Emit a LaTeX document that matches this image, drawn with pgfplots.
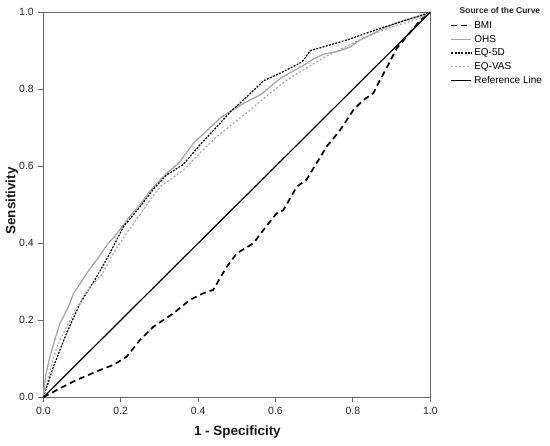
\documentclass[border=0pt]{standalone}
\usepackage{pgfplots}
\pgfplotsset{compat=1.18}
\usepackage{fontspec}
\setmainfont{Liberation Sans}
\definecolor{axgray}{HTML}{6A6A6A}
\definecolor{lgray}{HTML}{A8A8A8}
\begin{document}
\begin{tikzpicture}
\begin{axis}[
  scale only axis,
  width=387bp, height=385bp,
  xmin=0, xmax=1, ymin=0, ymax=1,
  xtick={0,0.2,0.4,0.6,0.8,1.0},
  ytick={0,0.2,0.4,0.6,0.8,1.0},
  xtick pos=bottom, ytick pos=left,
  tick align=outside,
  major tick length=5bp,
  every tick/.style={axgray, line width=1bp},
  axis line style={axgray, line width=1.5bp},
  tick label style={font=\fontsize{10.5}{12}\selectfont, text=black!85},
  /pgf/number format/assume math mode=true,
  /pgf/number format/.cd, fixed, fixed zerofill, precision=1, /pgfplots/.cd,
  xticklabel style={yshift=-1bp},
  yticklabel style={xshift=-1bp},
  xlabel={\textbf{1 - Specificity}},
  ylabel={\textbf{Sensitivity}},
  label style={font=\fontsize{13.5}{15}\selectfont, text=black!90},
  xlabel style={at={(axis description cs:0.5015,-0.090)}, anchor=center},
  ylabel style={at={(axis description cs:-0.081,0.51)}, anchor=center},
  legend style={draw=none, fill=none, at={(1.052,0.982)}, anchor=north west,
    font=\fontsize{10}{11}\selectfont, row sep=1.3bp, inner sep=0pt},
  legend cell align=left,
  legend image code/.code={\draw[#1] (0bp,0bp) -- (20bp,0bp);},
  every even column/.style={column sep=1bp},
  clip=false,
]
\addplot[black, line width=1.7bp, dash pattern=on 6bp off 4bp] coordinates {
(0,0) (0.035,0.019) (0.086,0.045) (0.147,0.071) (0.181,0.084) (0.215,0.105)
(0.250,0.149) (0.284,0.183) (0.336,0.218) (0.379,0.253) (0.413,0.270)
(0.439,0.279) (0.457,0.310) (0.474,0.339) (0.500,0.374) (0.543,0.400)
(0.569,0.435) (0.603,0.478) (0.620,0.486) (0.655,0.547) (0.680,0.565)
(0.706,0.608) (0.732,0.651) (0.767,0.694) (0.801,0.746) (0.827,0.772)
(0.853,0.790) (0.870,0.824) (0.887,0.855) (0.913,0.906) (0.939,0.937)
(0.956,0.958) (0.975,0.980) (1,1)};
\addlegendentry{BMI}
\addplot[lgray, line width=1.3bp] coordinates {
(0,0) (0.004,0.04) (0.009,0.071) (0.017,0.105) (0.030,0.150) (0.043,0.192)
(0.065,0.235) (0.078,0.270) (0.095,0.295) (0.112,0.322) (0.138,0.357)
(0.164,0.395) (0.190,0.425) (0.224,0.470) (0.250,0.500) (0.276,0.536)
(0.310,0.573) (0.353,0.612) (0.388,0.660) (0.420,0.690) (0.457,0.725)
(0.482,0.742) (0.520,0.765) (0.560,0.785) (0.612,0.828) (0.650,0.850)
(0.672,0.862) (0.700,0.880) (0.724,0.891) (0.760,0.898) (0.793,0.910)
(0.818,0.928) (0.853,0.945) (0.887,0.962) (0.920,0.975) (0.956,0.985)
(0.980,0.990) (1,1)};
\addlegendentry{OHS}
\addplot[black, line width=1.2bp, dash pattern=on 2bp off 1.3bp] coordinates {
(0,0) (0.010,0.030) (0.026,0.079) (0.043,0.123) (0.060,0.166) (0.095,0.244)
(0.138,0.313) (0.172,0.374) (0.207,0.443) (0.250,0.495) (0.284,0.540)
(0.319,0.578) (0.362,0.605) (0.405,0.656) (0.457,0.712) (0.482,0.740)
(0.520,0.775) (0.569,0.822) (0.612,0.842) (0.663,0.868) (0.672,0.875)
(0.689,0.900) (0.784,0.928) (0.870,0.958) (1,1)};
\addlegendentry{EQ-5D}
\addplot[lgray, line width=1.2bp, dash pattern=on 2bp off 2bp] coordinates {
(0,0) (0.010,0.040) (0.025,0.100) (0.043,0.149) (0.078,0.218) (0.121,0.287)
(0.151,0.318) (0.181,0.374) (0.215,0.426) (0.250,0.475) (0.276,0.512)
(0.302,0.547) (0.362,0.590) (0.405,0.635) (0.448,0.677) (0.534,0.746)
(0.580,0.785) (0.629,0.824) (0.680,0.855) (0.724,0.882) (0.780,0.910)
(0.836,0.937) (0.900,0.962) (0.973,0.984) (1,1)};
\addlegendentry{EQ-VAS}
\addplot[black, line width=1.2bp] coordinates {(0,0) (1,1)};
\addlegendentry{Reference Line}
\node[font=\bfseries\fontsize{8.5}{10}\selectfont, text=black!85] at (rel axis cs:1.18,1.006) {Source of the Curve};
\end{axis}
\pgfresetboundingbox
\path[use as bounding box] (-43.3bp,-48.7bp) rectangle (506.7bp,397.3bp);
\end{tikzpicture}
\end{document}
